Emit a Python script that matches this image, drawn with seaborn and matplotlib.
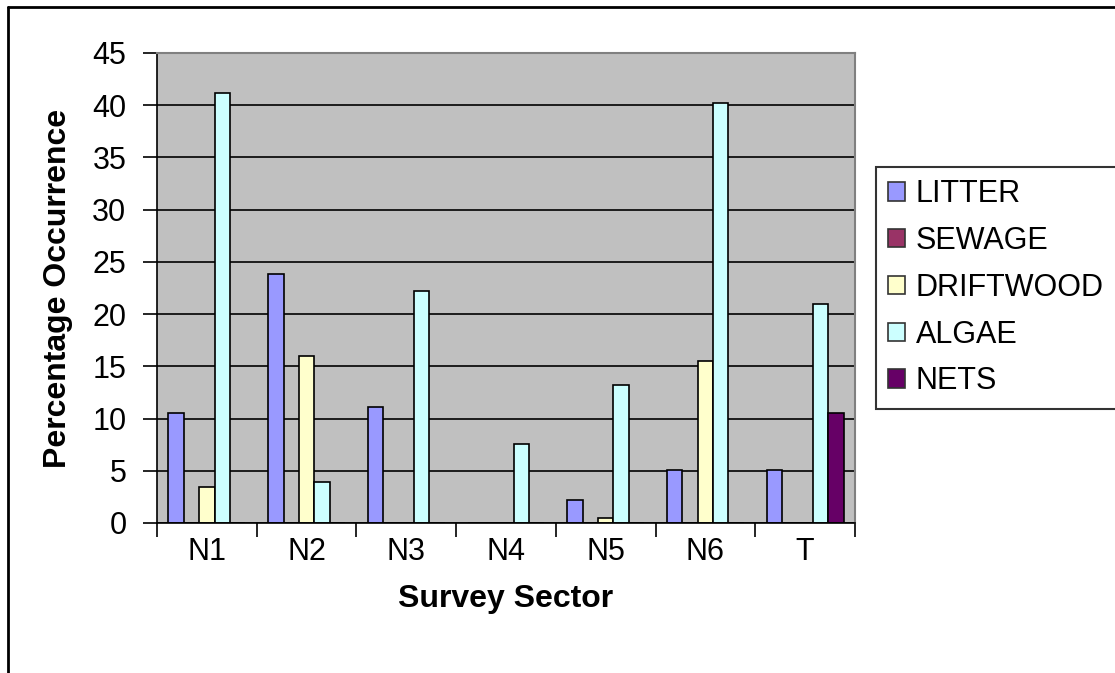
import matplotlib
matplotlib.use("Agg")
import matplotlib.pyplot as plt
from matplotlib.lines import Line2D
import numpy as np
import pandas as pd
import seaborn as sns

# data
sectors = ["N1", "N2", "N3", "N4", "N5", "N6", "T"]
litter = [10.5, 23.8, 11.1, 0, 2.2, 5.1, 5.1]
sewage = [0, 0, 0, 0, 0, 0, 0]
driftwood = [3.4, 16.0, 0, 0, 0.5, 15.5, 0]
algae = [41.2, 3.9, 22.2, 7.6, 13.2, 40.2, 21.0]
nets = [0, 0, 0, 0, 0, 0, 10.5]

series = {"LITTER": litter, "SEWAGE": sewage, "DRIFTWOOD": driftwood,
          "ALGAE": algae, "NETS": nets}
colors = ["#9999FF", "#993366", "#FFFFCC", "#CCFFFF", "#660066"]

df = pd.DataFrame([(s, name, v[i]) for name, v in series.items()
                   for i, s in enumerate(sectors)],
                  columns=["sector", "type", "value"])

sns.set_theme(style="ticks", rc={"text.color": "black", "axes.labelcolor": "black",
                                 "xtick.color": "black", "ytick.color": "black"})
plt.rcParams["font.family"] = ["Liberation Sans", "DejaVu Sans"]

fig = plt.figure(figsize=(11.15, 6.73), dpi=100)
ax = fig.add_axes([157/1115, 1-523/673, (855-157)/1115, (523-53)/673])

sns.barplot(data=df, x="sector", y="value", hue="type", order=sectors,
            hue_order=list(series), palette=colors, width=0.77,
            edgecolor="black", linewidth=1.2, saturation=1, ax=ax)

ax.set_facecolor("#C0C0C0")
ax.set_xlim(-0.5, len(sectors) - 0.5)
ax.set_ylim(0, 45)
ax.set_yticks(np.arange(0, 46, 5))
ax.yaxis.grid(True, color="black", linewidth=1.2)
ax.set_axisbelow(True)

for side in ["top", "right"]:
    ax.spines[side].set_color("#808080")
    ax.spines[side].set_linewidth(1.5)
for side in ["left", "bottom"]:
    ax.spines[side].set_color("black")
    ax.spines[side].set_linewidth(1.2)

ax.tick_params(axis="y", direction="out", length=10, width=1.2,
               labelsize=22, pad=12)
ax.tick_params(axis="x", which="major", length=0, labelsize=22, pad=10)
ax.set_xticks(np.arange(-0.5, len(sectors), 1), minor=True)
ax.tick_params(axis="x", which="minor", direction="out", length=10, width=1.2)

ax.set_xlabel("Survey Sector", fontsize=23, fontweight="bold", labelpad=12)
ax.set_ylabel("Percentage Occurrence", fontsize=23, fontweight="bold", labelpad=14)

handles, labels = ax.get_legend_handles_labels()
leg = ax.legend(handles, labels, loc="upper left", mode="expand",
                bbox_to_anchor=(876/1115, 1-167/673, (1130-876)/1115, 0),
                bbox_transform=fig.transFigure, fontsize=22,
                handlelength=0.55, handleheight=0.55, handletextpad=0.35,
                labelspacing=0.55, borderpad=0.4, frameon=True,
                fancybox=False, edgecolor="black", borderaxespad=0)
leg.get_frame().set_linewidth(1.5)
for h in leg.legend_handles:
    h.set_edgecolor("#333333")

# outer chart border (left and top visible)
fig.add_artist(Line2D([8/1115, 8/1115], [0, 1-7/673], color="black",
                      linewidth=2, transform=fig.transFigure))
fig.add_artist(Line2D([8/1115, 1], [1-7/673, 1-7/673], color="black",
                      linewidth=2, transform=fig.transFigure))

fig.savefig("out.png", dpi=100)
